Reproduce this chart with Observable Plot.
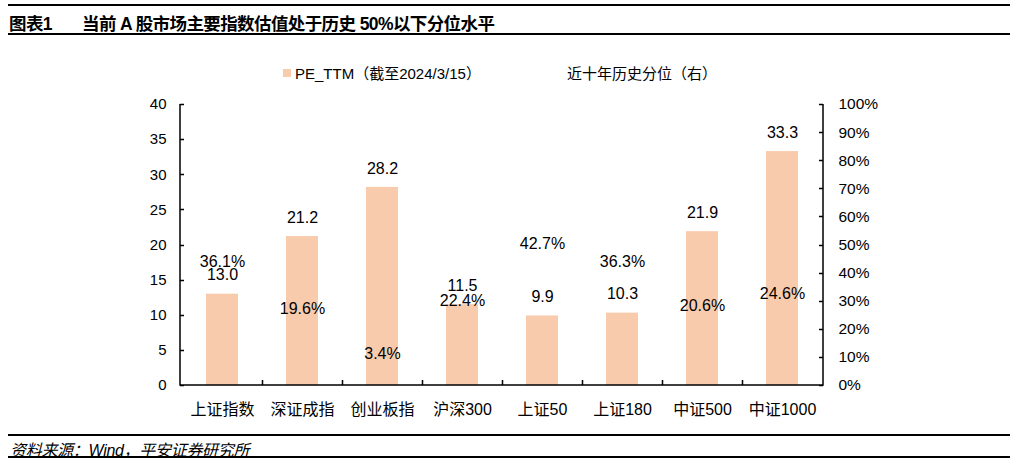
<!DOCTYPE html>
<html>
<head>
<meta charset="utf-8">
<script src="https://cdn.jsdelivr.net/npm/d3@7"></script>
<script src="https://cdn.jsdelivr.net/npm/@observablehq/plot@0.6"></script>
<style>
  html, body { margin: 0; padding: 0; background: #fff; }
  body { width: 1017px; height: 465px; position: relative; overflow: hidden;
         font-family: "Liberation Sans", Arial, "Noto Sans CJK SC", sans-serif; color: #000; }
  .hr { position: absolute; left: 8px; width: 1002px; background: #000; }
  .title { position: absolute; top: 10px; font-size: 17.5px; font-weight: bold; white-space: pre; letter-spacing: -0.6px; }
  #legend { position: absolute; top: 62px; left: 0; width: 1017px; font-size: 15px; }
  #legend .item { position: absolute; top: 0; white-space: nowrap; }
  #legend .sw { display: inline-block; width: 8px; height: 8px; background: #F8CBAD; margin-right: 4px; vertical-align: 2px; }
  #chart { position: absolute; left: 0; top: 88px; }
  #source { position: absolute; left: 10px; top: 437px; font-size: 16px; font-style: italic; letter-spacing: -0.3px; }
</style>
</head>
<body>
<div class="hr" style="top:4px;height:2px"></div>
<div class="title" style="left:9px">图表1</div>
<div class="title" style="left:82px">当前 A 股市场主要指数估值处于历史 50%以下分位水平</div>
<div class="hr" style="top:33px;height:2px"></div>
<div id="legend"></div>
<div id="chart"></div>
<div class="hr" style="top:434px;height:2px"></div>
<div id="source">资料来源：Wind，平安证券研究所</div>
<div class="hr" style="top:456px;height:2px"></div>
<script>
const categories = ["上证指数","深证成指","创业板指","沪深300","上证50","上证180","中证500","中证1000"];
const peTTM = [13.0, 21.2, 28.2, 11.5, 9.9, 10.3, 21.9, 33.3];
const percentile = [36.1, 19.6, 3.4, 22.4, 42.7, 36.3, 20.6, 24.6];
const leftTicks = [0, 5, 10, 15, 20, 25, 30, 35, 40];
const rightTicks = [0, 10, 20, 30, 40, 50, 60, 70, 80, 90, 100];
const seriesNames = ["PE_TTM（截至2024/3/15）", "近十年历史分位（右）"];
const barColor = "#F8CBAD";

const rows = categories.map((c, i) => ({cat: c, pe: peTTM[i], pct: percentile[i]}));
const yMax = 40;
const toLeft = p => p / 100 * yMax;

// legend
const legend = document.getElementById("legend");
legend.innerHTML =
  `<span class="item" style="left:283px"><span class="sw"></span>${seriesNames[0]}</span>` +
  `<span class="item" style="left:567px">${seriesNames[1]}</span>`;

// axis lines + inward ticks, drawn from the plot's scales
function axesLines(index, scales, values, dimensions) {
  const {x, y} = scales;
  const {width, height, marginLeft, marginRight, marginTop, marginBottom} = dimensions;
  const x0 = marginLeft, x1 = width - marginRight, y0 = height - marginBottom, y1 = marginTop;
  const g = d3.create("svg:g").attr("stroke", "#000").attr("fill", "none");
  let d = `M${x0},${y1}V${y0}H${x1}V${y1}`;
  leftTicks.forEach(t => { const yy = Math.round(y(t)) + 0.5; d += `M${x0},${yy}h4`; });
  rightTicks.forEach(t => { const yy = Math.round(y(toLeft(t))) + 0.5; d += `M${x1},${yy}h-4`; });
  categories.slice(1).forEach(c => { const xx = Math.round(x(c)) + 0.5; d += `M${xx},${y0}v-5`; });
  g.append("path").attr("d", d).attr("stroke-width", 1.5);
  return g.node();
}

const plot = Plot.plot({
  width: 1017,
  height: 340,
  marginLeft: 180,
  marginRight: 194,
  marginTop: 16,
  marginBottom: 43,
  style: {fontFamily: '"Liberation Sans", Arial, "Noto Sans CJK SC", sans-serif', fontSize: "15px", color: "#000", background: "transparent"},
  x: {type: "band", domain: categories, padding: 0, label: null},
  y: {domain: [0, yMax], label: null},
  marks: [
    Plot.barY(rows, {x: "cat", y: "pe", fill: barColor, insetLeft: 24, insetRight: 24}),
    Plot.axisY({anchor: "left", ticks: leftTicks, tickSize: 0, tickPadding: 14, label: null, fontSize: 15}),
    Plot.axisY({anchor: "right", ticks: rightTicks.map(toLeft), tickSize: 0, tickPadding: 15, label: null,
      tickFormat: d => Math.round(d / yMax * 100) + "%", fontSize: 15.5, textAnchor: "start"}),
    Plot.axisX({tickSize: 0, tickPadding: 18, label: null, fontSize: 16}),
    axesLines,
    Plot.text(rows, {x: "cat", y: "pe", text: d => d.pe.toFixed(1), dy: -19, fontSize: 16, fill: "#000"}),
    Plot.text(rows, {x: "cat", y: d => toLeft(d.pct), text: d => d.pct.toFixed(1) + "%", dy: -22, fontSize: 16, fill: "#000"})
  ]
});
document.getElementById("chart").appendChild(plot);
</script>
</body>
</html>
